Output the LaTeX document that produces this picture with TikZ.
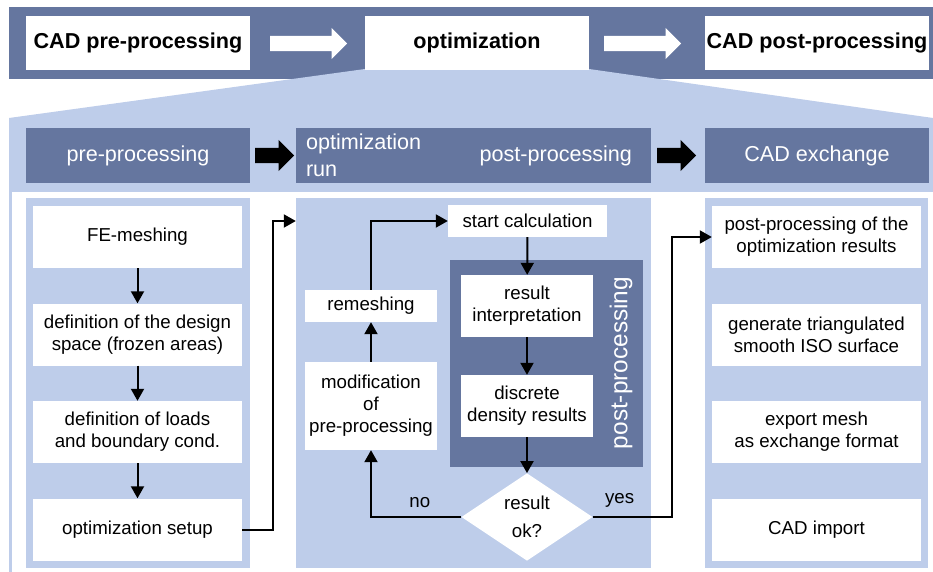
\documentclass[tikz,border=0pt]{standalone}
\usepackage{fontspec}
\setmainfont{Liberation Sans}
\usetikzlibrary{positioning, arrows.meta, shapes.geometric, shapes.arrows}

\definecolor{slate}{RGB}{101,118,159}
\definecolor{pale}{RGB}{190,205,234}

\begin{document}
\begin{tikzpicture}[x=1pt, y=-1pt,
        topbox/.style={fill=white, minimum width=224pt, minimum height=54pt, inner sep=0pt, font=\fontsize{21.6}{26}\selectfont\bfseries},
        headbox/.style={fill=slate, text=white, minimum height=55pt, inner sep=0pt, align=left, font=\fontsize{21.6}{27}\selectfont},
        column/.style={fill=pale, inner sep=0pt, minimum height=370pt},
        stepbox/.style={fill=white, align=center, inner sep=0pt, minimum width=209pt, minimum height=62pt, font=\fontsize{18.7}{22}\selectfont},
        smallbox/.style={stepbox, minimum width=132pt},
        decision/.style={diamond, fill=white, align=center, inner sep=0pt, minimum width=131pt, minimum height=83pt, font=\fontsize{18.7}{28}\selectfont},
        blockarrow/.style={single arrow, anchor=west, inner xsep=0pt, inner ysep=7.5pt, single arrow head extend=8pt, minimum height=39pt},
        arrow/.style={-{Triangle[length=12pt, width=13pt]}, line width=2pt}
    ]
        \useasboundingbox (0,0) rectangle (933,572);

        % Background: top band, funnel and lower panel
        \fill[slate] (9,7) rectangle (933,79);
        \fill[pale] (365,69) -- (589,69) -- (933,118) -- (933,572) -- (9,572) -- (9,118) -- cycle;
        \fill[white] (12,192) rectangle (933,572);

        % Top row
        \node[topbox] (cadpre) at (138,43) {CAD pre-processing};
        \node[topbox] (optim) at (477,43) {optimization};
        \node[topbox] (cadpost) at (817,43) {CAD post-processing};
        \node[blockarrow, fill=white, minimum height=77pt] (a1) at (270,43.5) {};
        \node[blockarrow, fill=white, minimum height=77pt] (a2) at (604,43.5) {};

        % Header row
        \node[headbox, minimum width=224pt] (hpre) at (138,155.5) {pre-processing};
        \node[headbox, minimum width=355pt] (hopt) at (473.5,155.5) {};
        \node[headbox, anchor=west] (hrun) at ([xshift=10pt]hopt.west) {optimization\\run};
        \node[headbox, anchor=east] (hpost) at ([xshift=-19pt]hopt.east) {post-processing};
        \node[headbox, minimum width=224pt] (hcad) at (817,155.5) {CAD exchange};
        \node[blockarrow, fill=black] (b1) at (255,155.5) {};
        \node[blockarrow, fill=black] (b2) at (657,155.5) {};

        % Columns
        \node[column, minimum width=224pt] (colpre) at (138,383) {};
        \node[column, minimum width=355pt] (colopt) at (473.5,383) {};
        \node[column, minimum width=223pt] (colcad) at (816.5,383) {};

        % Pre-processing steps
        \node[stepbox] (mesh) at (137.5,237) {FE-meshing};
        \node[stepbox] (space) at (137.5,334.5) {definition of the design\\space (frozen areas)};
        \node[stepbox] (loads) at (137.5,432) {definition of loads\\and boundary cond.};
        \node[stepbox] (setup) at (137.5,529.5) {optimization setup};

        % Optimization loop
        \fill[slate] (450,260) rectangle (643,467);
        \node[rotate=90, text=white, font=\fontsize{24.4}{28}\selectfont] (pplabel) at (621,363) {post-processing};
        \node[stepbox, minimum width=159pt, minimum height=32pt] (start) at (527.5,221) {start calculation};
        \node[smallbox] (interp) at (527,306) {result\\interpretation};
        \node[smallbox] (density) at (527,406) {discrete\\density results};
        \node[decision] (ok) at (527,517) {result\\ok?};
        \node[smallbox, minimum height=32pt] (remesh) at (371,306) {remeshing};
        \node[smallbox, minimum height=88pt] (modify) at (371,406) {modification\\of\\pre-processing};

        % CAD exchange steps
        \node[stepbox] (postres) at (816.5,237) {post-processing of the\\optimization results};
        \node[stepbox] (iso) at (816.5,334.5) {generate triangulated\\smooth ISO surface};
        \node[stepbox] (export) at (816.5,432) {export mesh\\as exchange format};
        \node[stepbox] (import) at (816.5,529.5) {CAD import};

        % Connectors
        \draw[arrow] (mesh) -- (space);
        \draw[arrow] (space) -- (loads);
        \draw[arrow] (loads) -- (setup);
        \draw[arrow] (setup.east) -- ++(31,0) |- (colopt.west |- start);
        \draw[arrow] (modify) -- (remesh);
        \draw[arrow] (remesh.north) |- (start.west);
        \draw[arrow] (start) -- (interp);
        \draw[arrow] (interp) -- (density);
        \draw[arrow] (density) -- (ok);
        \draw[arrow] (ok.west) -| node[pos=0.23, above=5pt, font=\fontsize{18.7}{22}\selectfont] {no} (modify.south);
        \draw[arrow] (ok.east) -- node[pos=0.34, above=5pt, font=\fontsize{18.7}{22}\selectfont] {yes} ++(79,0) |- (postres.west);

    \end{tikzpicture}
\end{document}
